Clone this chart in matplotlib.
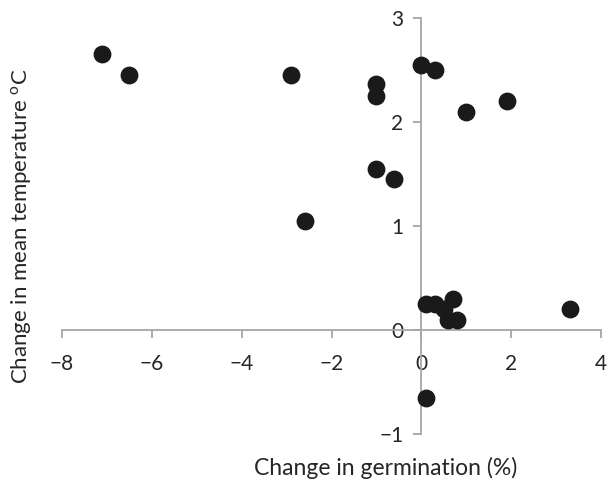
import numpy as np
import matplotlib.pyplot as plt

plt.rcParams['font.family'] = ['Lato', 'DejaVu Sans']

# data
germ_change = [-7.1, -6.5, -2.9, -1.0, -1.0, -1.0, -0.6, -2.6,
               0.0, 0.3, 1.0, 1.9, 3.3, 0.1,
               0.1, 0.3, 0.5, 0.7, 0.6, 0.8]
temp_change = [2.65, 2.45, 2.45, 2.37, 2.25, 1.55, 1.45, 1.05,
               2.55, 2.5, 2.1, 2.2, 0.2, -0.65,
               0.25, 0.25, 0.2, 0.3, 0.1, 0.1]
x_ticks = [-8, -6, -4, -2, 0, 2, 4]
y_ticks = [-1, 0, 1, 2, 3]

fig = plt.figure(figsize=(6.08, 4.83), dpi=100)
ax = fig.add_axes([0.102, 0.1014, 0.8865, 0.8613])

ax.scatter(germ_change, temp_change, s=140, color='#1a1a1a', zorder=3, clip_on=False)

ax.set_xlim(-8, 4)
ax.set_ylim(-1, 3)
ax.set_xticks(x_ticks)
ax.set_yticks(y_ticks)

# axes crossing at origin, excel style
ax.spines['left'].set_position(('data', 0))
ax.spines['bottom'].set_position(('data', 0))
ax.spines['right'].set_visible(False)
ax.spines['top'].set_visible(False)
for s in ['left', 'bottom']:
    ax.spines[s].set_color('#a6a6a6')
    ax.spines[s].set_linewidth(1.3)

ax.tick_params(axis='both', color='#a6a6a6', width=1.3, length=6,
               labelsize=15, labelcolor='#262626')
ax.tick_params(axis='x', direction='out', pad=11)
ax.tick_params(axis='y', direction='out', pad=7)

fig.text(22 / 608, 1 - 226 / 483, 'Change in mean temperature $^{\\mathregular{o}}$C',
         rotation=90, ha='center', va='center', fontsize=16, color='#262626')
fig.text(386 / 608, 1 - 468 / 483, 'Change in germination (%)',
         ha='center', va='center', fontsize=16.5, color='#262626')

fig.savefig('out.png', dpi=100)
